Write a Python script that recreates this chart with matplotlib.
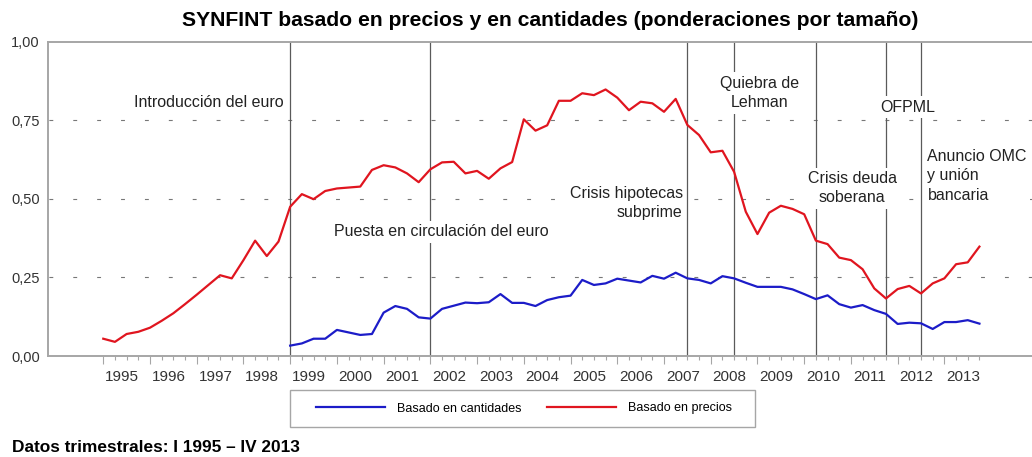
import numpy as np
import matplotlib
matplotlib.use("Agg")
import matplotlib.pyplot as plt
from matplotlib.patches import Rectangle
from matplotlib import font_manager

plt.rcParams['font.family'] = ['Liberation Sans', 'DejaVu Sans']

# datos trimestrales I 1995 - IV 2013
precios = [0.055, 0.045, 0.070, 0.077, 0.090, 0.112, 0.136, 0.165, 0.195, 0.226, 0.257, 0.247,
           0.305, 0.367, 0.318, 0.364,
           0.475, 0.515, 0.499, 0.525, 0.533, 0.536, 0.539, 0.592, 0.607, 0.600, 0.581, 0.553,
           0.594, 0.616, 0.618, 0.581, 0.589, 0.564, 0.597, 0.617,
           0.753, 0.717, 0.734, 0.812, 0.812, 0.836, 0.830, 0.848, 0.822, 0.782, 0.809, 0.804,
           0.777, 0.818,
           0.735, 0.703, 0.648, 0.653, 0.586, 0.459, 0.388, 0.456, 0.478, 0.468, 0.451, 0.367,
           0.356, 0.313, 0.305, 0.276, 0.215, 0.183, 0.213, 0.223, 0.199, 0.231, 0.247, 0.292,
           0.298, 0.348]
cantidades = [np.nan] * 16 + [
    0.033, 0.040, 0.055, 0.055, 0.083, 0.075, 0.067, 0.070, 0.138, 0.159, 0.150, 0.123,
    0.119, 0.150, 0.160, 0.170, 0.168, 0.171, 0.197, 0.169, 0.169, 0.159, 0.178, 0.187,
    0.192, 0.242, 0.226, 0.231, 0.246, 0.240, 0.234, 0.255, 0.246, 0.265, 0.247, 0.242,
    0.231, 0.254, 0.247, 0.233, 0.220, 0.220, 0.220, 0.212, 0.197, 0.181, 0.193, 0.165,
    0.154, 0.162, 0.146, 0.134, 0.102, 0.106, 0.104, 0.086, 0.108, 0.108, 0.114, 0.103]
years = list(range(1995, 2014))
first_year = 1995

# eventos: (anio, trimestre)
eventos = [(1999, 1), (2002, 1), (2007, 3), (2008, 3), (2010, 2), (2011, 4), (2012, 3)]
event_texts = ["Introducción del euro", "Puesta en circulación del euro",
               "Crisis hipotecas\nsubprime", "Quiebra de\nLehman", "Crisis deuda\nsoberana",
               "OFPML", "Anuncio OMC\ny unión\nbancaria"]
# (x en trimestres, y, ha)
text_pos = [(15.45, 0.805, 'right'), (19.75, 0.395, 'left'), (49.6, 0.488, 'right'),
            (56.2, 0.837, 'center'), (64.1, 0.534, 'center'), (68.9, 0.792, 'center'),
            (70.55, 0.573, 'left')]

RED = '#e0151f'
BLUE = '#1c1cc8'
GRAY = '#a6a6a6'

x = np.arange(len(precios))

narrow = [f.name for f in font_manager.fontManager.ttflist if 'Narrow' in f.name]
title_family = ['Liberation Sans Narrow', 'Liberation Sans'] if narrow else ['Liberation Sans']

fig = plt.figure(figsize=(10.32, 4.57), dpi=100)
ax = fig.add_axes([48 / 1032, 101 / 457, 984 / 1032, 314.3 / 457])

line_c, = ax.plot(x, cantidades, color=BLUE, lw=1.6, label="Basado en cantidades", zorder=4)
line_p, = ax.plot(x, precios, color=RED, lw=1.6, label="Basado en precios", zorder=4)

for (yr, q) in eventos:
    ax.axvline((yr - first_year) * 4 + q - 1, color='#5a5a5a', lw=0.9, zorder=2)

for txt, (tx, ty, ha) in zip(event_texts, text_pos):
    ax.text(tx, ty, txt, ha=ha, va='center', multialignment=ha, fontsize=11.5,
            color='#222222', linespacing=1.35, zorder=3,
            bbox=dict(facecolor='white', edgecolor='none', pad=2.5))

for yv in [0.25, 0.5, 0.75]:
    ax.axhline(yv, color='#777777', lw=0.8, linestyle=(20.7, (3.5, 18)), zorder=1)

ax.set_xlim(-4.73, 79.5)
ax.set_ylim(0, 1)
ax.set_yticks([0, 0.25, 0.5, 0.75, 1.0])
ax.set_yticklabels(["0,00", "0,25", "0,50", "0,75", "1,00"])
ax.tick_params(axis='y', length=0, pad=6, labelsize=10.5, labelcolor='#333333')

ax.set_xticks(np.arange(0, len(precios), 4))
ax.set_xticks(np.arange(0, len(precios)), minor=True)
ax.tick_params(axis='x', which='major', length=6, width=0.8, color=GRAY, labelbottom=False)
ax.tick_params(axis='x', which='minor', length=3, width=0.8, color=GRAY)

sec = ax.secondary_xaxis('bottom')
sec.set_xticks([(y - first_year) * 4 + 1.6 for y in years], labels=[str(y) for y in years])
sec.tick_params(length=0, pad=10, labelsize=11, labelcolor='#333333')
sec.spines['bottom'].set_visible(False)

for s in ['left', 'bottom', 'top']:
    ax.spines[s].set_color(GRAY)
    ax.spines[s].set_linewidth(1.4)
ax.spines['right'].set_visible(False)

fig.text(550 / 1032, 1 - 20 / 457, "SYNFINT basado en precios y en cantidades (ponderaciones por tamaño)",
         ha='center', va='center', fontsize=15.2, fontweight='bold', family=title_family)

fig.patches.append(Rectangle((290 / 1032, 1 - 427 / 457), 465 / 1032, 37 / 457,
                             transform=fig.transFigure, facecolor='white', edgecolor=GRAY, lw=1.0))
fig.legend(handles=[line_c, line_p], loc='center', bbox_to_anchor=(524 / 1032, 1 - 408.5 / 457),
           ncol=2, frameon=False, fontsize=9, handlelength=5.5, handletextpad=1.0,
           columnspacing=2.0)

fig.text(12 / 1032, 1 - 448 / 457, "Datos trimestrales: I 1995 – IV 2013", ha='left', va='center',
         fontsize=12.4, fontweight='bold')

fig.savefig("out.png", dpi=100)
